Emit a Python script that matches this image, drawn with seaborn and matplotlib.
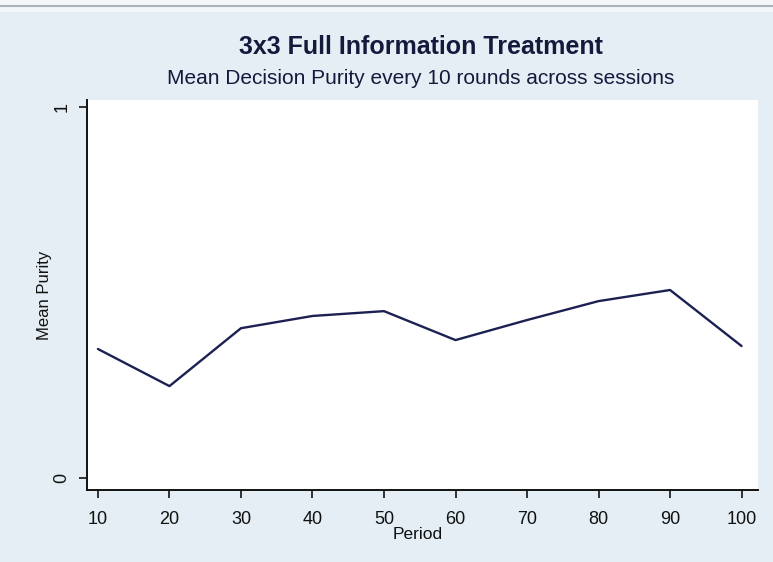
import matplotlib
matplotlib.use("Agg")
import matplotlib.pyplot as plt
import seaborn as sns
import pandas as pd
from matplotlib.lines import Line2D
from matplotlib.patches import Rectangle

# Mean decision purity, averaged over each block of 10 rounds
periods = [10, 20, 30, 40, 50, 60, 70, 80, 90, 100]
mean_purity = [0.348, 0.248, 0.404, 0.437, 0.450, 0.372, 0.426, 0.477, 0.507, 0.356]
x_ticks = [10, 20, 30, 40, 50, 60, 70, 80, 90, 100]
y_ticks = [0, 1]

df = pd.DataFrame({"Period": periods, "Mean Purity": mean_purity})

sns.set_theme(style="white")
plt.rcParams["font.family"] = ["Liberation Sans", "DejaVu Sans"]

W, H = 773, 562
fig = plt.figure(figsize=(W / 100, H / 100), dpi=100)
bg = "#e4eef4"
fig.patch.set_facecolor(bg)

# pale strip and rule along the top edge
fig.add_artist(Rectangle((0, 1 - 12 / H), 1, 12 / H, transform=fig.transFigure,
                         facecolor="#f4f7f9", edgecolor="none", zorder=0))
fig.add_artist(Line2D([0, 1], [1 - 6 / H, 1 - 6 / H], transform=fig.transFigure,
                      color="#a9b2ba", lw=1.5))

left, right, top, bottom = 87, 758, 100, 490
ax = fig.add_axes([left / W, 1 - bottom / H, (right - left) / W, (bottom - top) / H])
ax.set_facecolor("white")

sns.lineplot(data=df, x="Period", y="Mean Purity", ax=ax,
             color="#1c2152", linewidth=1.7)

ax.set_xlim(8.47, 102.3)
ax.set_ylim(-0.032, 1.019)
ax.set_xticks(x_ticks)
ax.set_yticks(y_ticks)
ax.set_yticklabels([str(v) for v in y_ticks], rotation=90, va="center")

for side in ["top", "right"]:
    ax.spines[side].set_visible(False)
for side in ["left", "bottom"]:
    ax.spines[side].set_color("#111111")
    ax.spines[side].set_linewidth(1.4)

ax.tick_params(axis="both", which="major", direction="out", length=6, width=1.2,
               color="#111111", labelsize=13, labelcolor="#111111",
               left=True, bottom=True)
ax.tick_params(axis="x", pad=9)
ax.tick_params(axis="y", pad=6)

ax.set_xlabel("Period", fontsize=12.5, color="#111111")
ax.set_ylabel("Mean Purity", fontsize=12, color="#111111", labelpad=1)
ax.xaxis.set_label_coords((418 - left) / (right - left), -0.095)

cx = 421 / W
fig.text(cx, 1 - 47 / H, "3x3 Full Information Treatment", ha="center", va="center",
         fontsize=18, fontweight="bold", color="#141a3c")
fig.text(cx, 1 - 79 / H, "Mean Decision Purity every 10 rounds across sessions",
         ha="center", va="center", fontsize=15, color="#141a3c")

fig.savefig("out.png", dpi=100, facecolor=fig.get_facecolor())
